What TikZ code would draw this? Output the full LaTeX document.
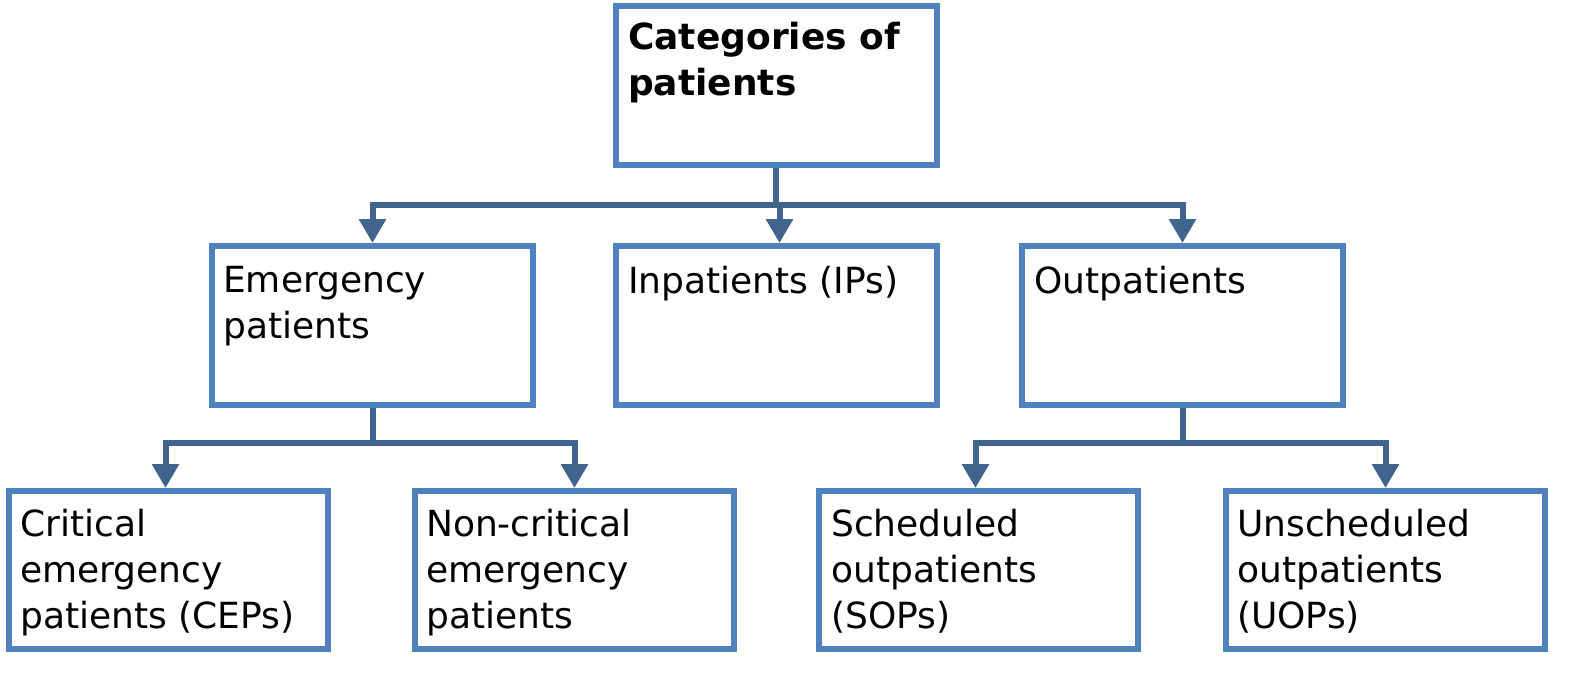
\documentclass[tikz,border=0pt]{standalone}
\usepackage{fontspec}
\setmainfont{DejaVu Sans}
\usetikzlibrary{arrows.meta}
\definecolor{bx}{HTML}{4F81BD}
\definecolor{ln}{HTML}{41648F}
\begin{document}
\begin{tikzpicture}[x=1pt,y=-1pt,
 box/.style={draw=bx,line width=6pt,fill=white,minimum width=#1,minimum height=159pt,inner sep=0pt,outer sep=3pt,anchor=north west},
 lbox/.style={box=319pt,minimum height=158pt},
 lbl/.style={anchor=north west,align=left,font=\fontsize{36}{46}\selectfont,inner sep=0pt},
 con/.style={draw=ln,line width=6pt},
 arr/.style={con,-{Triangle[length=24pt,width=26pt]}}]
\useasboundingbox (0,0) rectangle (1584,680);
\node[box=321pt] (top) at (613,3) {};
\node[box=321pt] (em) at (209,243) {};
\node[box=321pt] (ip) at (613,243) {};
\node[box=321pt] (op) at (1019,243) {};
\node[lbox] (ce) at (6,488) {};
\node[lbox] (nc) at (412,488) {};
\node[lbox] (so) at (816,488) {};
\node[lbox] (uo) at (1223,488) {};
\node[lbl,font=\bfseries\fontsize{36}{46}\selectfont] at (628,22) {Categories of\\patients};
\node[lbl] at (223,266) {Emergency\\patients};
\node[lbl] at (628,266) {Inpatients (IPs)};
\node[lbl] at (1034,266) {Outpatients};
\node[lbl] at (20,509) {Critical\\emergency\\patients (CEPs)};
\node[lbl] at (426,509) {Non-critical\\emergency\\patients};
\node[lbl] at (831,509) {Scheduled\\outpatients\\(SOPs)};
\node[lbl] at (1237,509) {Unscheduled\\outpatients\\(UOPs)};
\coordinate (j1) at (776,205);
\coordinate (j2) at (372,443);
\coordinate (j3) at (1182,443);
\draw[con] (top.south -| j1) -- (j1);
\draw[arr] (j1) -| (em.north);
\draw[arr] (j1) -| ([xshift=3pt]ip.north);
\draw[arr] (j1) -| (op.north);
\draw[con] (em.south) -- (em.south |- j2);
\draw[arr] (em.south |- j2) -| ([xshift=-3pt]ce.north);
\draw[arr] (em.south |- j2) -| (nc.north);
\draw[con] (op.south) -- (op.south |- j3);
\draw[arr] (op.south |- j3) -| ([xshift=-3pt]so.north);
\draw[arr] (op.south |- j3) -| (uo.north);
\end{tikzpicture}
\end{document}
